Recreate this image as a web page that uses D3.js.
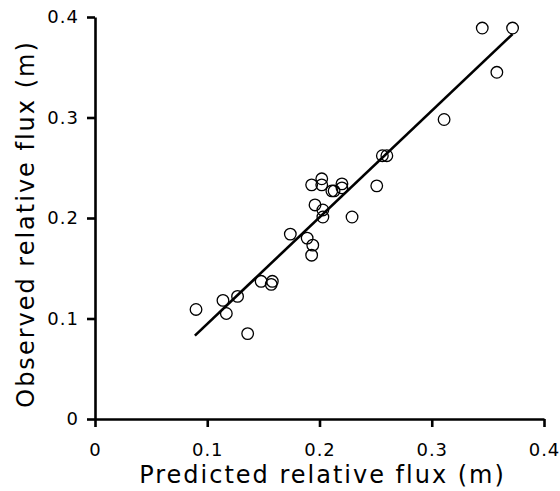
<!DOCTYPE html>
<html>
<head>
<meta charset="utf-8">
<script src="https://d3js.org/d3.v7.min.js"></script>
<style>
  body { margin: 0; background: #fff; }
  text { font-family: "DejaVu Sans", Verdana, sans-serif; fill: #000; }
</style>
</head>
<body>
<div id="chart"></div>
<script>
// Data
const predicted = [0.090, 0.114, 0.117, 0.127, 0.136, 0.148, 0.158, 0.157, 0.174, 0.189,
                   0.194, 0.193, 0.193, 0.196, 0.202, 0.202, 0.203, 0.203, 0.211, 0.213,
                   0.220, 0.220, 0.229, 0.251, 0.256, 0.260, 0.311, 0.345, 0.358, 0.372];
const observed  = [0.109, 0.118, 0.105, 0.122, 0.085, 0.137, 0.137, 0.134, 0.184, 0.180,
                   0.173, 0.163, 0.233, 0.213, 0.239, 0.233, 0.208, 0.201, 0.227, 0.227,
                   0.234, 0.230, 0.201, 0.232, 0.262, 0.262, 0.298, 0.389, 0.345, 0.389];
// Regression line end points
const fitX = [0.089, 0.372];
const fitY = [0.083, 0.383];
const xTicks = [0, 0.1, 0.2, 0.3, 0.4];
const yTicks = [0, 0.1, 0.2, 0.3, 0.4];

const W = 560, H = 491;
const margin = { top: 17, right: 16, bottom: 72, left: 95 };
const width = W - margin.left - margin.right;
const height = H - margin.top - margin.bottom;

const svg = d3.select("#chart").append("svg")
    .attr("width", W)
    .attr("height", H);

const g = svg.append("g")
    .attr("transform", `translate(${margin.left},${margin.top})`);

const x = d3.scaleLinear().domain([0, 0.4]).range([0, width]);
const y = d3.scaleLinear().domain([0, 0.4]).range([height, 0]);

const fmt = d => d === 0 ? "0" : d3.format(".1f")(d);

// x axis
const xAxis = g.append("g")
    .attr("transform", `translate(0,${height})`)
    .call(d3.axisBottom(x).tickValues(xTicks).tickFormat(fmt).tickSize(8).tickSizeOuter(0).tickPadding(16));

// y axis
const yAxis = g.append("g")
    .call(d3.axisLeft(y).tickValues(yTicks).tickFormat(fmt).tickSize(8).tickSizeOuter(0).tickPadding(8));

[xAxis, yAxis].forEach(a => {
    a.select(".domain").attr("stroke", "#000").attr("stroke-width", 2.6);
    a.selectAll(".tick line").attr("stroke", "#000").attr("stroke-width", 2.6);
    a.selectAll(".tick text")
        .style("font-size", "18px")
        .style("letter-spacing", "1px")
        .attr("fill", "#000");
});

// regression line
g.append("line")
    .attr("x1", x(fitX[0])).attr("y1", y(fitY[0]))
    .attr("x2", x(fitX[1])).attr("y2", y(fitY[1]))
    .attr("stroke", "#000")
    .attr("stroke-width", 2.6);

// points
g.selectAll(".pt")
    .data(predicted.map((p, i) => ({ p: p, o: observed[i] })))
    .enter().append("circle")
    .attr("class", "pt")
    .attr("cx", d => x(d.p))
    .attr("cy", d => y(d.o))
    .attr("r", 5.8)
    .attr("fill", "none")
    .attr("stroke", "#000")
    .attr("stroke-width", 1.3);

// axis labels
g.append("text")
    .attr("x", width / 2 + 3)
    .attr("y", height + 64)
    .attr("text-anchor", "middle")
    .style("font-size", "24px")
    .style("letter-spacing", "2px")
    .text("Predicted relative flux (m)");

g.append("text")
    .attr("transform", "rotate(-90)")
    .attr("x", -height / 2 - 6)
    .attr("y", -61)
    .attr("text-anchor", "middle")
    .style("font-size", "24px")
    .style("letter-spacing", "2px")
    .text("Observed relative flux (m)");
</script>
</body>
</html>
